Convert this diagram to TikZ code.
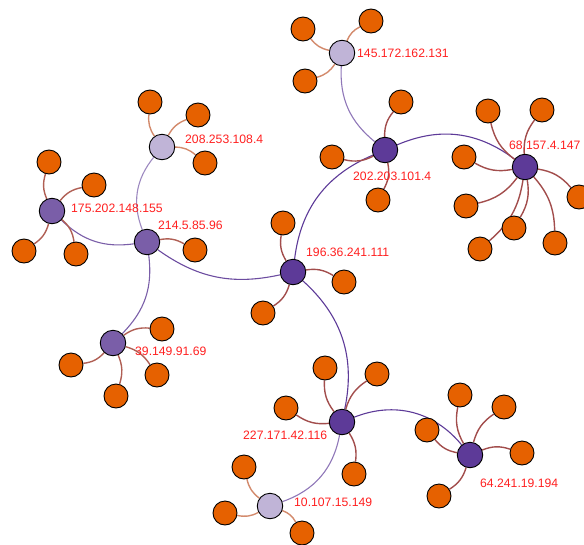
\documentclass[tikz,border=0pt]{standalone}
\usepackage{fontspec}
\setmainfont{Liberation Sans}
\pgfdeclarelayer{edges}
\pgfsetlayers{edges,main}
\definecolor{leafc}{RGB}{230,97,0}
\definecolor{hubD}{RGB}{93,58,152}
\definecolor{hubM}{RGB}{122,94,168}
\definecolor{hubL}{RGB}{192,180,215}
\definecolor{labred}{RGB}{255,32,32}
\colorlet{spokeD}{hubD!50!leafc}
\colorlet{spokeM}{hubM!50!leafc}
\colorlet{spokeL}{hubL!50!leafc}
\colorlet{linkDL}{hubD!50!hubL}
\colorlet{linkDM}{hubD!50!hubM}
\colorlet{linkML}{hubM!50!hubL}
\begin{document}
\begin{tikzpicture}[x=1pt,y=-1pt,
  hub/.style={circle,draw=black,line width=0.9pt,minimum size=25.5pt,inner sep=0pt},
  hubdark/.style={hub,fill=hubD},
  hubmid/.style={hub,fill=hubM},
  hublight/.style={hub,fill=hubL},
  leaf/.style={circle,draw=black,line width=0.9pt,fill=leafc,minimum size=24pt,inner sep=0pt},
  ip/.style={text=labred,font=\fontsize{12.2}{14}\selectfont,anchor=west,inner sep=0pt},
  link/.style={line width=1.1pt},
  spoke/.style={line width=1.4pt,bend left=20},
]
\useasboundingbox (0,0) rectangle (584,544);

% hosts
\node[hublight] (n145) at (342,53) {};
\node[hubdark]  (n202) at (385,150) {};
\node[hubdark]  (n68)  at (525,167) {};
\node[hublight] (n208) at (162,147) {};
\node[hubmid]   (n175) at (52,211) {};
\node[hubmid]   (n214) at (147,242) {};
\node[hubdark]  (n196) at (293,272) {};
\node[hubmid]   (n39)  at (113,343) {};
\node[hubdark]  (n227) at (342,422) {};
\node[hubdark]  (n64)  at (470,455) {};
\node[hublight] (n10)  at (270,506) {};

% address labels
\node[ip] (t145) at (357,53)  {145.172.162.131};
\node[ip] (t208) at (185,139) {208.253.108.4};
\node[ip] (t175) at (71,208)  {175.202.148.155};
\node[ip] (t214) at (158,225) {214.5.85.96};
\node[ip] (t196) at (306,252) {196.36.241.111};
\node[ip] (t202) at (353,176) {202.203.101.4};
\node[ip] (t68)  at (509,145) {68.157.4.147};
\node[ip] (t227) at (243,435) {227.171.42.116};
\node[ip] (t64)  at (480,483) {64.241.19.194};
\node[ip] (t10)  at (294,502) {10.107.15.149};
\node[ip] (t39)  at (135,351) {39.149.91.69};

% leaf endpoints
\foreach \n/\x/\y in {
  a1/303/29, a2/371/21, a3/305/81,
  b1/401/102, b2/332/157, b3/378/200,
  c1/488/111, c2/542/110, c3/464/157, c4/466/206, c5/514/228, c6/480/249, c7/555/243, c8/579/197,
  d1/150/102, d2/198/115, d3/205/163,
  e1/49/162, e2/94/185, e3/24/251, e4/76/254,
  f1/195/250,
  g1/283/223, g2/344/282, g3/263/313,
  h1/162/329, h2/71/365, h3/157/375, h4/116/396,
  i1/325/368, i2/377/374, i3/286/408, i4/354/474,
  j1/460/395, j2/504/407, j3/522/453, j4/439/496, j5/427/430,
  k1/244/467, k2/225/513, k3/302/533}
  \node[leaf] (\n) at (\x,\y) {};

\begin{pgfonlayer}{edges}
% links between hosts
\draw[link,linkDL] (n145) to[bend right=27] (n202);
\draw[link,hubD]   (n202) to[bend left=30]  (n68);
\draw[link,hubD]   (n196) to[bend left=30]  (n202);
\draw[link,linkDM] (n214) to[bend right=24] (n196);
\draw[link,hubD]   (n196) to[bend left=30]  (n227);
\draw[link,hubM]   (n214) to[bend left=26]  (n175);
\draw[link,linkML] (n214) to[bend left=30]  (n208);
\draw[link,hubM]   (n214) to[bend left=26]  (n39);
\draw[link,hubD]   (n227) to[bend left=36]  (n64);
\draw[link,linkDL] (n227) to[bend left=30]  (n10);

% spokes to single-connection hosts
\foreach \h/\l/\c in {
  n145/a1/spokeL, n145/a2/spokeL, n145/a3/spokeL,
  n202/b1/spokeD, n202/b2/spokeD, n202/b3/spokeD,
  n68/c1/spokeD, n68/c2/spokeD, n68/c3/spokeD, n68/c4/spokeD, n68/c5/spokeD,
  n68/c6/spokeD, n68/c7/spokeD, n68/c8/spokeD,
  n208/d1/spokeL, n208/d2/spokeL, n208/d3/spokeL,
  n175/e1/spokeM, n175/e2/spokeM, n175/e3/spokeM, n175/e4/spokeM,
  n214/f1/spokeM,
  n196/g1/spokeD, n196/g2/spokeD, n196/g3/spokeD,
  n39/h1/spokeM, n39/h2/spokeM, n39/h3/spokeM, n39/h4/spokeM,
  n227/i1/spokeD, n227/i2/spokeD, n227/i3/spokeD, n227/i4/spokeD,
  n64/j1/spokeD, n64/j2/spokeD, n64/j3/spokeD, n64/j4/spokeD, n64/j5/spokeD,
  n10/k1/spokeL, n10/k2/spokeL, n10/k3/spokeL}
  \draw[spoke,draw=\c] (\h) to (\l);
\end{pgfonlayer}
\end{tikzpicture}
\end{document}
